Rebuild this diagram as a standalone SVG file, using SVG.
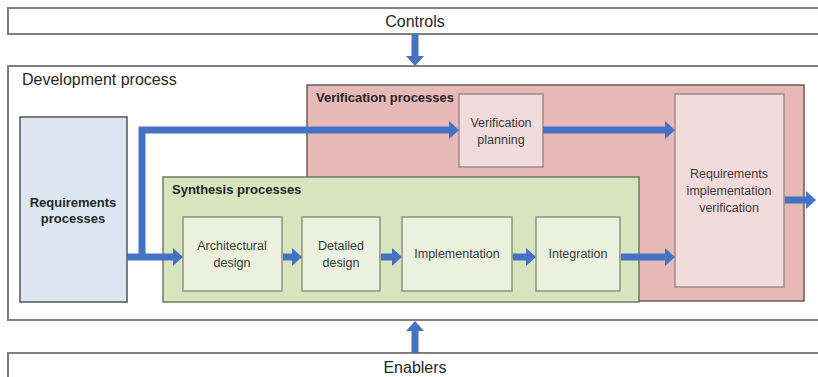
<svg xmlns="http://www.w3.org/2000/svg" width="818" height="377" viewBox="0 0 818 377">
  <style>
    .frame { fill: #ffffff; stroke: #7f7f7f; stroke-width: 2; }
    .label { font-family: "Liberation Sans", Arial, sans-serif; fill: #262626; }
    .big { font-size: 16px; }
    .title { font-size: 13px; font-weight: bold; fill: #262626; }
    .step { font-size: 12.5px; fill: #3a3a3a; text-anchor: middle; }
    .verif { fill: #e6b8b7; stroke: #6e5a5a; stroke-width: 1.5; }
    .verif-step { fill: #f2dcdb; stroke: #9a8c8c; stroke-width: 1.5; }
    .req { fill: #dce6f1; stroke: #555555; stroke-width: 1.5; }
    .synth { fill: #d7e4bd; stroke: #6f7a66; stroke-width: 1.5; }
    .synth-step { fill: #ebf1de; stroke: #8a9480; stroke-width: 1.5; }
    .flow { fill: none; stroke: #4472c4; stroke-width: 7; stroke-linejoin: miter; }
    .head { fill: #4472c4; }
  </style>
  <defs>
    <!-- block arrowhead: the shaft ends at the head's base -->
    <marker id="arrow" viewBox="0 0 10 18" refX="0" refY="9" markerUnits="userSpaceOnUse" markerWidth="10" markerHeight="18" orient="auto" overflow="visible">
      <path d="M0,0 L10,9 L0,18 Z" fill="#4472c4"/>
    </marker>
  </defs>

  <!-- outer context frames -->
  <g id="controls">
    <rect class="frame" x="8" y="8" width="830" height="26"/>
    <text class="label big" x="415" y="27" text-anchor="middle">Controls</text>
  </g>
  <g id="development">
    <rect class="frame" x="8" y="66" width="830" height="254"/>
    <text class="label big" x="22" y="85">Development process</text>
  </g>
  <g id="enablers">
    <rect class="frame" x="8" y="353" width="830" height="40"/>
    <text class="label big" x="415" y="373" text-anchor="middle">Enablers</text>
  </g>

  <!-- verification container -->
  <g id="verification">
    <rect class="verif" x="307" y="85" width="497" height="216"/>
    <text class="label title" x="316" y="102">Verification processes</text>
  </g>
  <g id="verification-planning">
    <rect class="verif-step" x="459" y="94" width="84" height="73"/>
    <text class="label step" x="501" y="127">Verification</text>
    <text class="label step" x="501" y="144">planning</text>
  </g>
  <g id="req-impl-verification">
    <rect class="verif-step" x="675" y="94" width="109" height="193"/>
    <text class="label step" x="729" y="178">Requirements</text>
    <text class="label step" x="729" y="195">implementation</text>
    <text class="label step" x="729" y="212">verification</text>
  </g>

  <!-- requirements -->
  <g id="requirements">
    <rect class="req" x="20" y="117" width="107" height="185"/>
    <text class="label title" x="73" y="207" text-anchor="middle">Requirements</text>
    <text class="label title" x="73" y="223" text-anchor="middle">processes</text>
  </g>

  <!-- synthesis container and steps -->
  <g id="synthesis">
    <rect class="synth" x="163" y="177" width="476" height="125"/>
    <text class="label title" x="172" y="194">Synthesis processes</text>
  </g>
  <g id="architectural-design">
    <rect class="synth-step" x="183" y="217" width="99" height="74"/>
    <text class="label step" x="232" y="250">Architectural</text>
    <text class="label step" x="232" y="267">design</text>
  </g>
  <g id="detailed-design">
    <rect class="synth-step" x="302" y="217" width="78" height="74"/>
    <text class="label step" x="341" y="250">Detailed</text>
    <text class="label step" x="341" y="267">design</text>
  </g>
  <g id="implementation">
    <rect class="synth-step" x="402" y="217" width="110" height="74"/>
    <text class="label step" x="457" y="258">Implementation</text>
  </g>
  <g id="integration">
    <rect class="synth-step" x="536" y="217" width="84" height="74"/>
    <text class="label step" x="578" y="258">Integration</text>
  </g>

  <!-- connectors -->
  <g id="connectors">
    <path class="flow" d="M415,34 V56" marker-end="url(#arrow)"/>
    <path class="flow" d="M415,353 V331" marker-end="url(#arrow)"/>
    <path class="flow" d="M127,257 H173" marker-end="url(#arrow)"/>
    <path class="flow" d="M142,257 V130 H449" marker-end="url(#arrow)"/>
    <path class="flow" d="M543,130 H665" marker-end="url(#arrow)"/>
    <path class="flow" d="M283,257 H292" marker-end="url(#arrow)"/>
    <path class="flow" d="M381,257 H392" marker-end="url(#arrow)"/>
    <path class="flow" d="M513,257 H526" marker-end="url(#arrow)"/>
    <path class="flow" d="M621,257 H665" marker-end="url(#arrow)"/>
    <path class="flow" d="M785,200 H806" marker-end="url(#arrow)"/>
  </g>
</svg>
